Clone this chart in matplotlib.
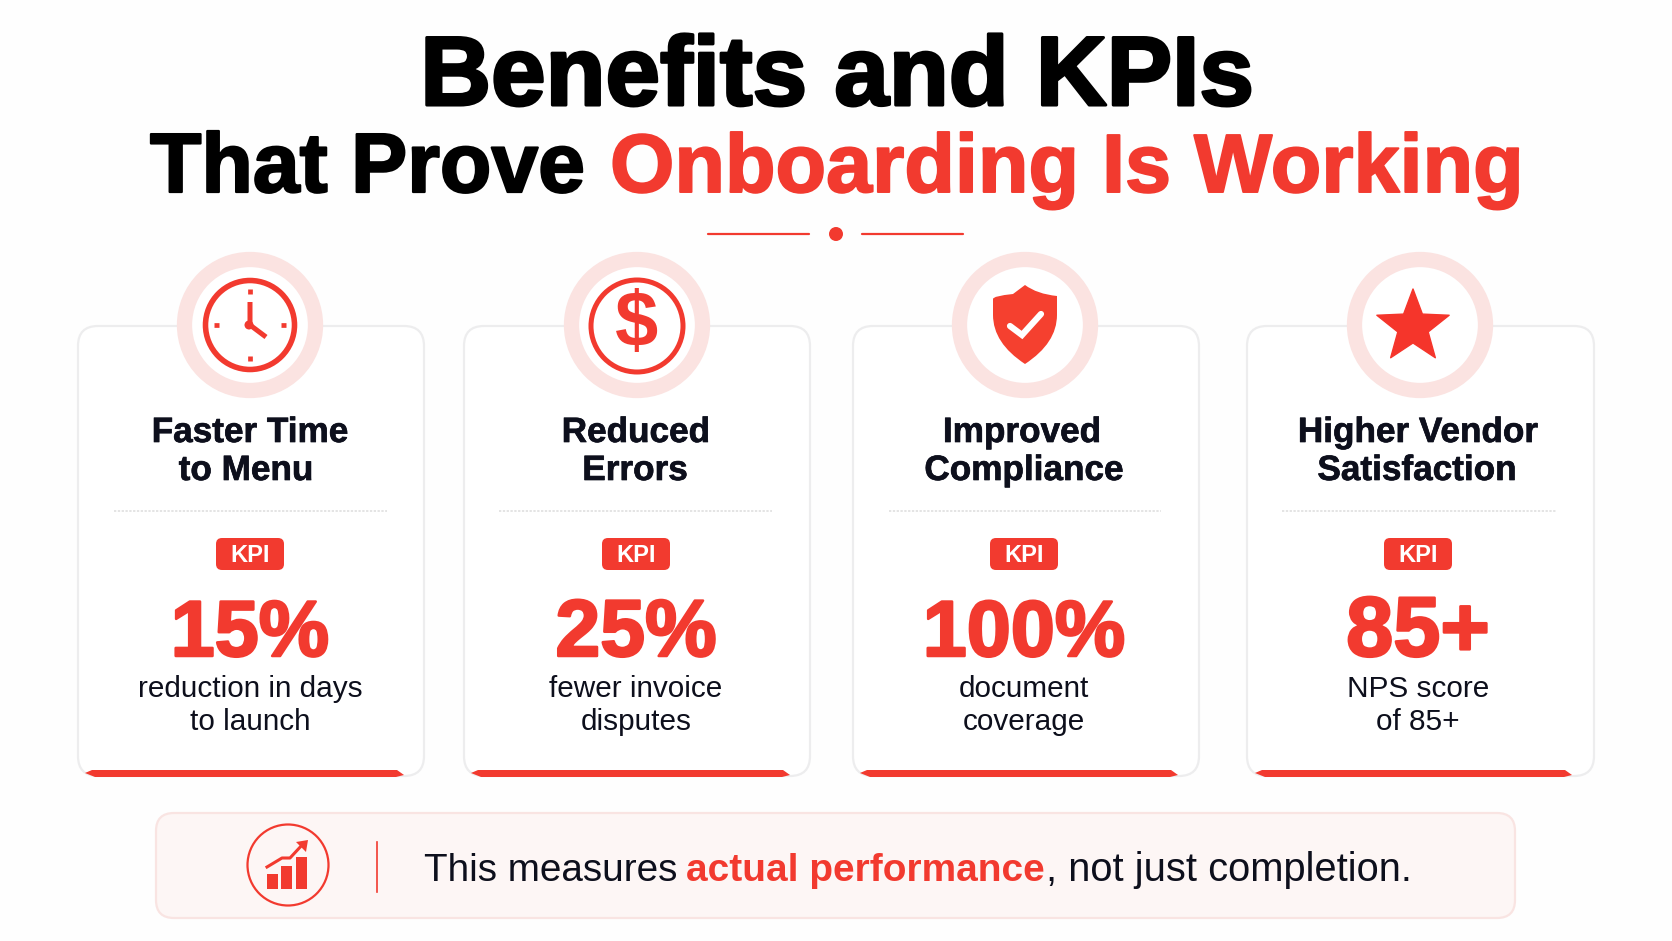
import numpy as np
import matplotlib
matplotlib.use("Agg")
import matplotlib.pyplot as plt
import matplotlib.patheffects as pe
from matplotlib.patches import Circle, FancyBboxPatch, Polygon, PathPatch, Rectangle
from matplotlib.path import Path

plt.rcParams['font.family'] = ['Liberation Sans', 'DejaVu Sans']

RED = '#f23a2f'
INK = '#0d0f1c'
RING = '#fbe3e1'

title_line1 = "Benefits and KPIs"
title_black = "That Prove "
title_red = "Onboarding Is Working"
headings = [["Faster Time", "to Menu"], ["Reduced", "Errors"], ["Improved", "Compliance"], ["Higher Vendor", "Satisfaction"]]
kpi_values = ["15%", "25%", "100%", "85+"]
kpi_desc = [["reduction in days", "to launch"], ["fewer invoice", "disputes"], ["document", "coverage"], ["NPS score", "of 85+"]]
value_sizes = [57, 58, 57, 61]
card_left = [78, 464, 853, 1247]
card_right = [424, 810, 1199, 1594]
ring_x = [250, 637, 1025, 1420]
head_x = [(250, 246), (636, 635), (1022, 1024), (1418, 1417)]
text_x = [250, 636, 1024, 1418]
sep_x = [(114, 387), (499, 772), (889, 1161), (1282, 1556)]
bar_x = [(85, 404), (471, 790), (860, 1178), (1255, 1572)]
foot_black1 = "This measures "
foot_red = "actual performance"
foot_black2 = ", not just completion."

fig = plt.figure(figsize=(16.72, 9.41), dpi=100, facecolor='#fefefe')
ax = fig.add_axes([0, 0, 1, 1])
ax.set_xlim(0, 1672); ax.set_ylim(941, 0); ax.axis('off')

def T(x, y, s, size, color=INK, weight='normal', ha='center', va='baseline', z=10, grow=0):
    t = ax.text(x, y, s, fontsize=size, color=color, fontweight=weight, ha=ha, va=va, zorder=z)
    if grow:
        t.set_path_effects([pe.withStroke(linewidth=grow, foreground=color)])
    return t

def rbox(x0, y0, x1, y1, r, fc, ec, lw=1.5, z=1):
    p = FancyBboxPatch((x0 + r, y0 + r), x1 - x0 - 2*r, y1 - y0 - 2*r,
                       boxstyle=f"round,pad={r},rounding_size={r}", fc=fc, ec=ec, lw=lw, zorder=z)
    ax.add_patch(p)

# title
T(837, 105, title_line1, 70.6, color='#000000', weight='bold', grow=2.2)
T(150, 192, title_black, 60.6, color='#000000', weight='bold', ha='left', grow=1.6)
T(610, 192, title_red, 59.6, color=RED, weight='bold', ha='left', grow=1.4)
ax.plot([708, 809], [234, 234], color=RED, lw=1.6, solid_capstyle='round', zorder=5)
ax.plot([862, 963], [234, 234], color=RED, lw=1.6, solid_capstyle='round', zorder=5)
ax.add_patch(Circle((836, 234), 7, fc=RED, ec='none', zorder=5))

# cards
for i in range(4):
    rbox(card_left[i], 326, card_right[i], 776, 20, '#ffffff', '#ededee', lw=1.6, z=1)
    # ring
    ax.add_patch(Circle((ring_x[i], 325), 65.5, fc='white', ec=RING, lw=11, zorder=3))
    for j, yb in enumerate([442, 480]):
        T(head_x[i][j], yb, headings[i][j], 25.3, weight='bold', grow=0.5)
    ax.plot(sep_x[i], [511, 511], color='#dcdcdc', lw=1.1, ls=(0, (1.5, 1)), zorder=3)
    # bar
    x0, x1 = bar_x[i]
    ax.add_patch(Polygon([(x0, 773), (x0 + 7, 770), (x1 - 7, 770), (x1, 775), (x1 - 8, 777), (x0 + 10, 777)],
                         closed=True, fc=RED, ec='none', zorder=4))
    # KPI badge
    cx = text_x[i]
    rbox(cx - 34, 538, cx + 34, 570, 6, RED, 'none', lw=0, z=4)
    T(cx, 562, "KPI", 17, color='white', weight='bold')
    T(cx, 656, kpi_values[i], value_sizes[i], color=RED, weight='bold', grow=1.8)
    for j, yb in enumerate([697, 730]):
        T(cx, yb, kpi_desc[i][j], 21.4)

# clock icon
cx, cy = 250, 325
ax.add_patch(Circle((cx, cy), 44.5, fc='white', ec=RED, lw=4, zorder=5))
for a in range(4):
    dx, dy = np.cos(a*np.pi/2), np.sin(a*np.pi/2)
    ax.plot([cx+31*dx, cx+36*dx], [cy+31*dy, cy+36*dy], color=RED, lw=3.4, solid_capstyle='butt', zorder=6)
ax.plot([cx, cx, cx+16], [cy-23, cy, cy+12], color=RED, lw=3.6, solid_joinstyle='round', solid_capstyle='butt', zorder=6)
ax.add_patch(Circle((cx-1, cy), 4.5, fc=RED, ec='none', zorder=6))

# dollar icon
cx = ring_x[1]
ax.add_patch(Circle((cx, 326), 46, fc='white', ec=RED, lw=3.6, zorder=5))
ax.text(cx, 326, "$", fontsize=56, color=RED, fontweight='bold', ha='center', va='center', zorder=6)

# shield icon
cx = ring_x[2]; t = 285; b = 364; w = 32
verts = [(cx, t), (cx+12, t+9), (cx+w, t+11), (cx+w, t+14),
         (cx+w, t+30), (cx+w, t+58), (cx, b),
         (cx-w, t+58), (cx-w, t+30), (cx-w, t+14),
         (cx-w, t+11), (cx-12, t+9), (cx, t), (cx, t)]
codes = [Path.MOVETO, Path.CURVE3, Path.CURVE3, Path.LINETO,
         Path.LINETO, Path.CURVE3, Path.CURVE3,
         Path.CURVE3, Path.CURVE3, Path.LINETO,
         Path.CURVE3, Path.CURVE3, Path.LINETO, Path.CLOSEPOLY]
ax.add_patch(PathPatch(Path(verts, codes), fc='#f5402f', ec='none', zorder=5))
ax.plot([cx-15, cx-3, cx+16], [326, 335, 314], color='white', lw=4.5, solid_capstyle='round', solid_joinstyle='miter', zorder=6)

# star icon
sx, sy, R = 1413, 327, 38
ang = np.deg2rad(-90 + np.arange(10)*36)
rad = np.where(np.arange(10) % 2 == 0, R, R*0.42)
ax.add_patch(Polygon(np.c_[sx+rad*np.cos(ang), sy+rad*np.sin(ang)], closed=True, fc='#f5352b', ec='#f5352b', lw=1, joinstyle='round', zorder=5))

# footer
rbox(156, 813, 1515, 918, 18, '#fdf6f5', '#f9e4e2', lw=1.6, z=1)
ax.add_patch(Circle((288, 865), 40.5, fc='none', ec=RED, lw=1.6, zorder=5))
for x0, top in [(267, 874), (281, 866), (296, 857)]:
    ax.add_patch(Rectangle((x0, top), 11, 889-top, fc=RED, ec='none', zorder=5))
ax.plot([267, 282, 290, 303], [867, 858, 858, 844], color=RED, lw=2.2, zorder=5)
ax.add_patch(Polygon([(308, 840), (306, 852), (296, 842)], closed=True, fc=RED, ec='none', zorder=5))
ax.plot([377, 377], [842, 892], color=RED, lw=1.2, zorder=5)
T(424, 881, foot_black1, 27.9, ha='left')
T(686, 881, foot_red, 28, color=RED, weight='bold', ha='left')
T(1046, 881, foot_black2, 28.7, ha='left')

fig.savefig('out.png', dpi=100, facecolor=fig.get_facecolor())
